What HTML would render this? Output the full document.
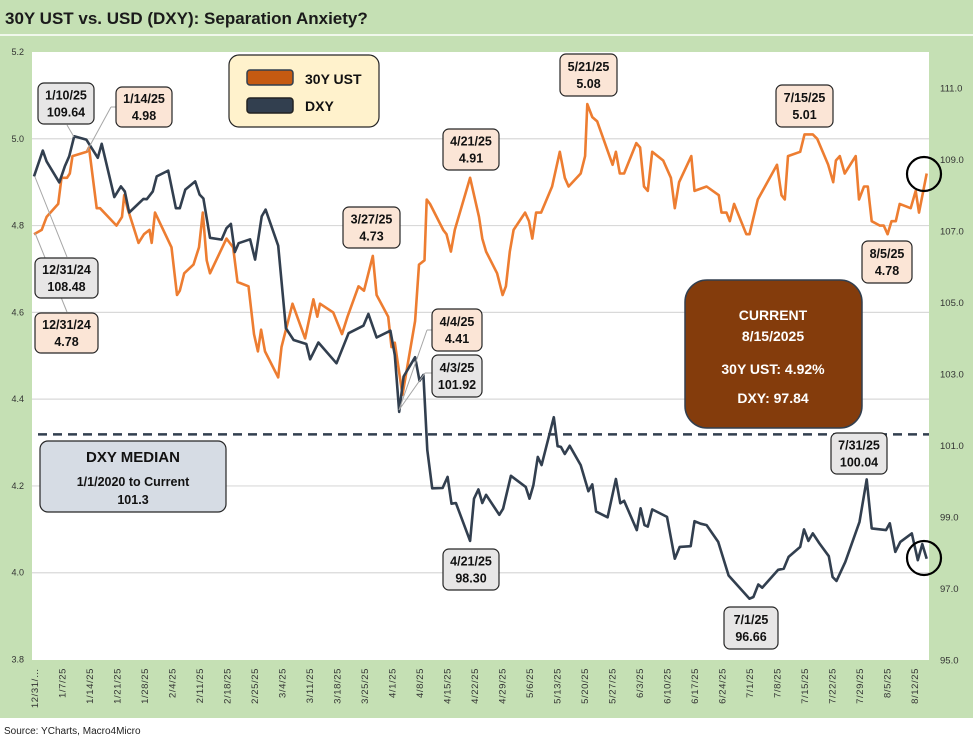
<!DOCTYPE html>
<html><head><meta charset="utf-8"><style>
body{margin:0;background:#fff;font-family:"Liberation Sans",sans-serif;}
#wrap{position:relative;width:973px;height:739px;overflow:hidden;}
</style></head><body>
<div id="wrap">
<svg id="chart" width="973" height="739" xmlns="http://www.w3.org/2000/svg">
<rect x="0" y="0" width="973" height="718" fill="#c5e0b4"/>
<line x1="0" y1="35" x2="973" y2="35" stroke="#ffffff" stroke-width="1.5"/>
<text x="5" y="24" font-size="17" font-weight="bold" fill="#1a1a1a">30Y UST vs. USD (DXY): Separation Anxiety?</text>
<rect x="32" y="52" width="897" height="608" fill="#ffffff"/>
<g id="grid"></g><g id="axes"></g><g id="series"></g><g id="annot"></g>
<text x="4" y="734" font-size="10" fill="#222">Source: YCharts, Macro4Micro</text>
</svg>
</div>
<script>
const xLabels=["12/31/…","1/7/25","1/14/25","1/21/25","1/28/25","2/4/25","2/11/25","2/18/25","2/25/25","3/4/25","3/11/25","3/18/25","3/25/25","4/1/25","4/8/25","4/15/25","4/22/25","4/29/25","5/6/25","5/13/25","5/20/25","5/27/25","6/3/25","6/10/25","6/17/25","6/24/25","7/1/25","7/8/25","7/15/25","7/22/25","7/29/25","8/5/25","8/12/25"];
const leftTicks=[3.8,4.0,4.2,4.4,4.6,4.8,5.0,5.2];
const rightTicks=[95,97,99,101,103,105,107,109,111];
const ustDay=[0,1.4,2.3,4.4,5,6,6.5,7,9.6,10,11,11.4,12,15,16,16.4,17,19,20,21,21.4,22,25,26,26.5,27.3,29,30,30.7,31.4,32,35,36.2,37,39,40,40.7,41.3,42,44.4,45,46,47,49.3,50.8,51.5,52,54.4,56,57,59,60,61.6,62.3,64.4,65,65.6,67,69.3,70,71,71.4,72,74.4,75,75.8,76.5,79.3,80.9,81.5,82.2,84.2,85.2,85.8,86.5,87.2,89.3,90,90.6,91.3,92.2,94.2,95.6,96.5,97.2,99.4,100.2,100.6,101.5,102.4,105.2,105.8,106.5,107.3,109.5,110.2,110.9,111.6,112.4,114.4,115.8,116.5,117.3,119.5,120.1,122.3,124.5,125,125.9,126.5,127.3,129.5,130.1,131.6,135.1,135.9,136.5,137.1,139.3,140.1,141.6,142.4,144.4,145.3,145.8,146.5,147.4,149.4,150,150.9,151.6,152.3,153.8,154.5,155.2,155.9,156.7,157.4,159.4,160.3,160.9,162.3];
const ustVal=[4.78,4.79,4.82,4.85,4.91,4.91,4.92,4.96,4.97,4.98,4.88,4.84,4.84,4.80,4.82,4.87,4.84,4.76,4.78,4.79,4.76,4.83,4.75,4.64,4.65,4.69,4.71,4.75,4.83,4.72,4.69,4.77,4.75,4.67,4.66,4.55,4.51,4.56,4.51,4.45,4.52,4.57,4.62,4.54,4.63,4.59,4.62,4.60,4.55,4.59,4.66,4.65,4.73,4.64,4.59,4.52,4.53,4.41,4.58,4.71,4.72,4.86,4.85,4.79,4.78,4.74,4.79,4.91,4.82,4.77,4.74,4.69,4.64,4.66,4.74,4.79,4.83,4.81,4.77,4.83,4.83,4.89,4.97,4.91,4.89,4.92,4.96,5.08,5.05,5.04,4.94,4.97,4.92,4.92,4.99,4.98,4.89,4.88,4.97,4.95,4.91,4.84,4.90,4.96,4.88,4.89,4.87,4.83,4.83,4.81,4.85,4.78,4.78,4.86,4.94,4.87,4.86,4.96,4.97,5.01,5.01,5.00,4.94,4.90,4.95,4.96,4.92,4.96,4.86,4.89,4.89,4.81,4.80,4.80,4.78,4.81,4.81,4.85,4.84,4.88,4.83,4.92];
const dxyDay=[0,1.6,2.3,4.6,5.6,6.4,7.3,9.5,11.6,12.3,14.6,15.8,16.5,17.3,19.9,20.5,21.6,22.3,24.4,25.8,26.5,27.5,29.3,30.1,30.8,32,34.1,35,35.8,36.5,37.2,39.3,40.2,41.4,42.1,44.4,45.8,47.2,49.5,50.2,51.7,55,57.2,59.9,60.8,62.3,64.8,65.6,66.4,67.2,69.3,70.1,70.8,71.5,72.4,74.3,75.2,75.9,76.7,79.3,80,80.8,81.5,82.2,84.6,85.3,86.7,89.4,90.1,90.8,91.6,92.3,94.5,95.2,95.8,96.5,97.4,99.4,100.8,101.5,102.2,104.3,105.8,106.6,107.3,109.6,110.3,111,111.6,112.4,115.1,116.5,117.4,119.4,120.1,121.2,122.3,124.4,126.3,130.1,130.8,131.7,132.4,135.3,136.3,137.2,139.3,140,140.8,141.6,142.8,144.5,145.2,145.9,147.5,150.1,151.4,152.3,154.9,155.6,156.6,157.5,159.6,160.7,161.5,162.3];
const dxyVal=[108.52,109.24,108.94,108.35,108.80,109.08,109.64,109.55,109.04,109.43,107.94,108.24,108.10,107.51,107.89,107.88,108.10,108.52,108.68,107.63,107.63,108.15,108.38,108.01,107.90,106.80,106.75,107.07,107.19,106.40,106.65,106.76,106.19,107.40,107.59,106.58,104.27,103.94,103.83,103.40,103.87,103.29,104.13,104.34,104.67,104.01,104.20,103.52,101.93,102.92,103.46,102.80,102.96,100.86,99.79,99.80,100.11,99.36,99.38,98.32,99.50,99.76,99.38,99.61,99.05,99.22,100.14,99.83,99.50,99.88,100.67,100.44,101.78,100.97,100.95,100.75,100.98,100.44,99.71,99.90,99.14,98.98,100.05,99.37,99.44,98.62,99.23,98.76,98.72,99.20,98.99,97.82,98.15,98.17,98.87,98.80,98.76,98.29,97.35,96.70,96.75,97.10,97.01,97.51,97.54,97.87,98.15,98.64,98.32,98.53,98.25,97.89,97.31,97.20,97.73,98.85,100.04,98.67,98.62,98.81,98.01,98.29,98.53,97.78,98.23,97.82];
const dxyMedian=[101.3];

const NS="http://www.w3.org/2000/svg";
const X0=34, XSTEP=5.5, TOP=52, BOT=659.5;
function xPos(d){return X0+d*XSTEP;}
function yL(v){return BOT-(v-3.8)/(5.2-3.8)*(BOT-TOP);}
function yR(v){return BOT-(v-95)/(112-95)*(BOT-TOP);}
function mk(tag,attrs,parent){const e=document.createElementNS(NS,tag);for(const k in attrs)e.setAttribute(k,attrs[k]);parent.appendChild(e);return e;}
const grid=document.getElementById('grid'),axes=document.getElementById('axes'),series=document.getElementById('series'),annot=document.getElementById('annot');

leftTicks.forEach(t=>{
  if(t>3.8&&t<5.2){const l=mk('line',{x1:32,x2:929,y1:yL(t),y2:yL(t),stroke:'#d9d9d9','stroke-width':1.2},grid);
  
  }
  const tx=mk('text',{x:24,y:yL(t)+3,'font-size':9,'text-anchor':'end',fill:'#333'},axes);tx.textContent=t.toFixed(1);
  
  
});
rightTicks.forEach(t=>{
  const tx=mk('text',{x:940,y:yR(t)+4,'font-size':9.5,fill:'#333'},axes);tx.textContent=t.toFixed(1);
  
  
});
xLabels.forEach((lab,i)=>{
  const x=xPos(i*5)+4;
  const tx=mk('text',{x:0,y:0,'font-size':9.5,'text-anchor':'end',fill:'#333',transform:`translate(${x},668) rotate(-90)`,'letter-spacing':'0.6'},axes);tx.textContent=lab;
  
  
});

// median line
const med=mk('line',{x1:38,x2:929,y1:yR(dxyMedian[0]),y2:yR(dxyMedian[0]),stroke:'#323f4f','stroke-width':2.5,'stroke-dasharray':'9,6'},series);



function path(days,vals,yf){return days.map((d,i)=>(i?'L':'M')+xPos(d).toFixed(1)+','+yf(vals[i]).toFixed(1)).join(' ');}
const pu=mk('path',{d:path(ustDay,ustVal,yL),fill:'none',stroke:'#ed7d31','stroke-width':2.6,'stroke-linejoin':'round'},series);


const pd=mk('path',{d:path(dxyDay,dxyVal,yR),fill:'none',stroke:'#323f4f','stroke-width':2.6,'stroke-linejoin':'round'},series);



// leader lines
[[35,177,67,257],[35,233,67,312],[74,137,67,125],[87,151,111,107],[111,107,116,107],[399,410,427,330],[399,410,425,373],[427,330,432,330],[425,373,432,373]].forEach(p=>{
  const l=mk('line',{x1:p[0],y1:p[1],x2:p[2],y2:p[3],stroke:'#a6a6a6','stroke-width':1},annot);
  
  
});

function box(x,y,w,h,fill,l1,l2,name){
  const g=mk('g',{},annot);
  
  
  mk('rect',{x:x,y:y,width:w,height:h,rx:6,fill:fill,stroke:'#262626','stroke-width':1.2},g);
  const a=mk('text',{x:x+w/2,y:y+h/2-4,'font-size':12.5,'font-weight':'bold','text-anchor':'middle',fill:'#111'},g);a.textContent=l1;
  const b=mk('text',{x:x+w/2,y:y+h/2+13,'font-size':12.5,'font-weight':'bold','text-anchor':'middle',fill:'#111'},g);b.textContent=l2;
}
const P='#fbe5d6',G='#e7e6e6';
box(38,83,56,41,G,'1/10/25','109.64','label-dxy-jan10');
box(116,87,56,40,P,'1/14/25','4.98','label-ust-jan14');
box(35,258,63,40,G,'12/31/24','108.48','label-dxy-dec31');
box(35,313,63,40,P,'12/31/24','4.78','label-ust-dec31');
box(343,207,57,41,P,'3/27/25','4.73','label-ust-mar27');
box(443,129,56,41,P,'4/21/25','4.91','label-ust-apr21');
box(432,309,50,42,P,'4/4/25','4.41','label-ust-apr4');
box(432,355,50,42,G,'4/3/25','101.92','label-dxy-apr3');
box(443,549,56,41,G,'4/21/25','98.30','label-dxy-apr21');
box(560,54,57,42,P,'5/21/25','5.08','label-ust-may21');
box(776,85,57,42,P,'7/15/25','5.01','label-ust-jul15');
box(862,241,50,42,P,'8/5/25','4.78','label-ust-aug5');
box(831,433,56,41,G,'7/31/25','100.04','label-dxy-jul31');
box(724,607,54,42,G,'7/1/25','96.66','label-dxy-jul1');

// legend
const lg=mk('g',{},annot);


mk('rect',{x:229,y:55,width:150,height:72,rx:10,fill:'#fff2cc',stroke:'#262626','stroke-width':1.2},lg);
mk('rect',{x:247,y:70,width:46,height:15,rx:3,fill:'#c55a11',stroke:'#323f4f','stroke-width':1.5},lg);
mk('rect',{x:247,y:98,width:46,height:15,rx:3,fill:'#323f4f',stroke:'#222','stroke-width':1.5},lg);
let t=mk('text',{x:305,y:84,'font-size':14,'font-weight':'bold',fill:'#111'},lg);t.textContent='30Y UST';
t=mk('text',{x:305,y:111,'font-size':14,'font-weight':'bold',fill:'#111'},lg);t.textContent='DXY';

// median box
const mb=mk('g',{},annot);


mk('rect',{x:40,y:441,width:186,height:71,rx:8,fill:'#d6dce4',stroke:'#262626','stroke-width':1.2},mb);
t=mk('text',{x:133,y:462,'font-size':15,'font-weight':'bold','text-anchor':'middle',fill:'#111'},mb);t.textContent='DXY MEDIAN';
t=mk('text',{x:133,y:486,'font-size':12.5,'font-weight':'bold','text-anchor':'middle',fill:'#111'},mb);t.textContent='1/1/2020 to Current';
t=mk('text',{x:133,y:504,'font-size':12.5,'font-weight':'bold','text-anchor':'middle',fill:'#111'},mb);t.textContent='101.3';

// current box
const cb=mk('g',{},annot);


mk('rect',{x:685,y:280,width:177,height:148,rx:22,fill:'#843c0c',stroke:'#323f4f','stroke-width':1.5},cb);
[['CURRENT',320],['8/15/2025',341],['30Y UST:  4.92%',374],['DXY:  97.84',403]].forEach(r=>{
  const tt=mk('text',{x:773,y:r[1],'font-size':14,'font-weight':'bold','text-anchor':'middle',fill:'#ffffff'},cb);tt.textContent=r[0];
});

// circles
[[924,174],[924,558]].forEach(c=>{
  const ci=mk('circle',{cx:c[0],cy:c[1],r:17,fill:'none',stroke:'#000','stroke-width':2.2},annot);
  
  
});
</script>
</body></html>
